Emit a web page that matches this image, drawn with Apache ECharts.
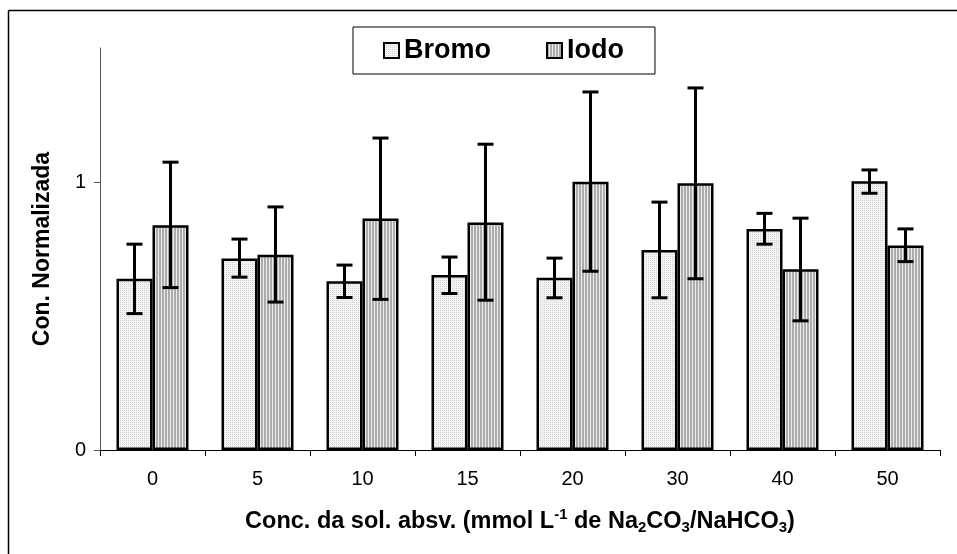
<!DOCTYPE html>
<html><head><meta charset="utf-8">
<script src="https://cdn.jsdelivr.net/npm/echarts@6/dist/echarts.min.js"></script>
<style>html,body{margin:0;padding:0;background:#fff}#c{width:957px;height:554px}</style>
</head><body><div id="c"></div>
<script>
const categories = ['0','5','10','15','20','30','40','50'];
const bromo   = [0.639, 0.715, 0.630, 0.653, 0.643, 0.746, 0.825, 1.003];
const bromoHi = [0.768, 0.787, 0.690, 0.720, 0.716, 0.925, 0.883, 1.045];
const bromoLo = [0.509, 0.645, 0.569, 0.584, 0.568, 0.568, 0.768, 0.958];
const iodo    = [0.839, 0.729, 0.864, 0.849, 1.001, 0.995, 0.674, 0.763];
const iodoHi  = [1.074, 0.907, 1.164, 1.141, 1.336, 1.351, 0.865, 0.825];
const iodoLo  = [0.606, 0.552, 0.562, 0.559, 0.667, 0.639, 0.482, 0.703];
const yTicks = [0, 1];

function makePattern(w, h, fn) {
  const c = document.createElement('canvas'); c.width = w; c.height = h;
  const ctx = c.getContext('2d');
  for (let x = 0; x < w; x++) for (let y = 0; y < h; y++) { ctx.fillStyle = fn(x, y); ctx.fillRect(x, y, 1, 1); }
  return { image: c, repeat: 'repeat' };
}
const bromoFill = makePattern(2, 2, (x, y) => (x === 0 && y === 0) ? '#d4d4d4' : '#f3f3f3');
const iodoFill = makePattern(3, 1, (x) => x < 2 ? '#acacac' : '#ececec');

const FONT = '"Liberation Sans", Arial, sans-serif';
const BAR_W = 36;

function errSeries(name, lo, hi, offset) {
  return {
    type: 'custom', name: name + '_err', silent: true, z: 10,
    data: lo.map((v, i) => [i, v, hi[i]]),
    renderItem: function (params, api) {
      const p1 = api.coord([api.value(0), api.value(1)]);
      const p2 = api.coord([api.value(0), api.value(2)]);
      const x = p1[0] + offset, hw = 8;
      const st = { stroke: '#000', lineWidth: 3 };
      return { type: 'group', children: [
        { type: 'line', shape: { x1: x, y1: p1[1], x2: x, y2: p2[1] }, style: st },
        { type: 'line', shape: { x1: x - hw, y1: p1[1], x2: x + hw, y2: p1[1] }, style: st },
        { type: 'line', shape: { x1: x - hw, y1: p2[1], x2: x + hw, y2: p2[1] }, style: st }
      ]};
    }
  };
}

const chart = echarts.init(document.getElementById('c'), null, { renderer: 'canvas' });
chart.setOption({
  animation: false,
  backgroundColor: '#fff',
  textStyle: { fontFamily: FONT },
  graphic: [
    { type: 'line', shape: { x1: 8.5, y1: 10.5, x2: 960, y2: 10.5 }, style: { stroke: '#000', lineWidth: 1.5 } },
    { type: 'line', shape: { x1: 8.5, y1: 10.5, x2: 8.5, y2: 560 }, style: { stroke: '#000', lineWidth: 1.5 } }
  ],
  legend: {
    data: ['Bromo', 'Iodo'],
    left: 353, top: 27,
    padding: [10, 31, 10, 30],
    borderColor: '#000', borderWidth: 1,
    icon: 'rect',
    itemWidth: 15, itemHeight: 15, itemGap: 55,
    textStyle: { fontFamily: FONT, fontWeight: 'bold', fontSize: 27, color: '#000' }
  },
  grid: { left: 100, right: 17, top: 48, bottom: 104 },
  xAxis: {
    type: 'category', data: categories,
    axisLine: { lineStyle: { color: '#000', width: 1 } },
    axisTick: { show: true, length: 6, lineStyle: { color: '#000' } },
    axisLabel: { fontFamily: FONT, fontSize: 20, color: '#000', margin: 19 },
    name: 'Conc. da sol. absv. (mmol L{sup|-1} de Na{sub|2}CO{sub|3}/NaHCO{sub|3})',
    nameLocation: 'middle', nameGap: 57,
    nameTextStyle: {
      fontFamily: FONT, fontWeight: 'bold', fontSize: 23.5, color: '#000',
      rich: {
        sup: { fontFamily: FONT, fontWeight: 'bold', fontSize: 15, color: '#000', padding: [0, 0, 15, 0] },
        sub: { fontFamily: FONT, fontWeight: 'bold', fontSize: 15, color: '#000', padding: [11, 0, 0, 0] }
      }
    }
  },
  yAxis: {
    type: 'value', min: 0, max: 1.5,
    splitLine: { show: false },
    axisLine: { show: true, lineStyle: { color: '#555', width: 1 } },
    axisTick: { show: true, length: 6, lineStyle: { color: '#555' }, customValues: yTicks },
    axisLabel: { fontFamily: FONT, fontSize: 20, color: '#000', margin: 14, customValues: yTicks },
    name: 'Con. Normalizada', nameLocation: 'middle', nameGap: 46,
    nameTextStyle: { fontFamily: FONT, fontWeight: 'bold', fontSize: 23, color: '#000' }
  },
  series: [
    { type: 'bar', name: 'Bromo', data: bromo, barWidth: BAR_W, barGap: '0%',
      itemStyle: { color: bromoFill, borderColor: '#000', borderWidth: 2.5 } },
    { type: 'bar', name: 'Iodo', data: iodo, barWidth: BAR_W, barGap: '0%',
      itemStyle: { color: iodoFill, borderColor: '#000', borderWidth: 2.5 } },
    errSeries('Bromo', bromoLo, bromoHi, -BAR_W / 2),
    errSeries('Iodo', iodoLo, iodoHi, BAR_W / 2)
  ]
});
</script></body></html>
